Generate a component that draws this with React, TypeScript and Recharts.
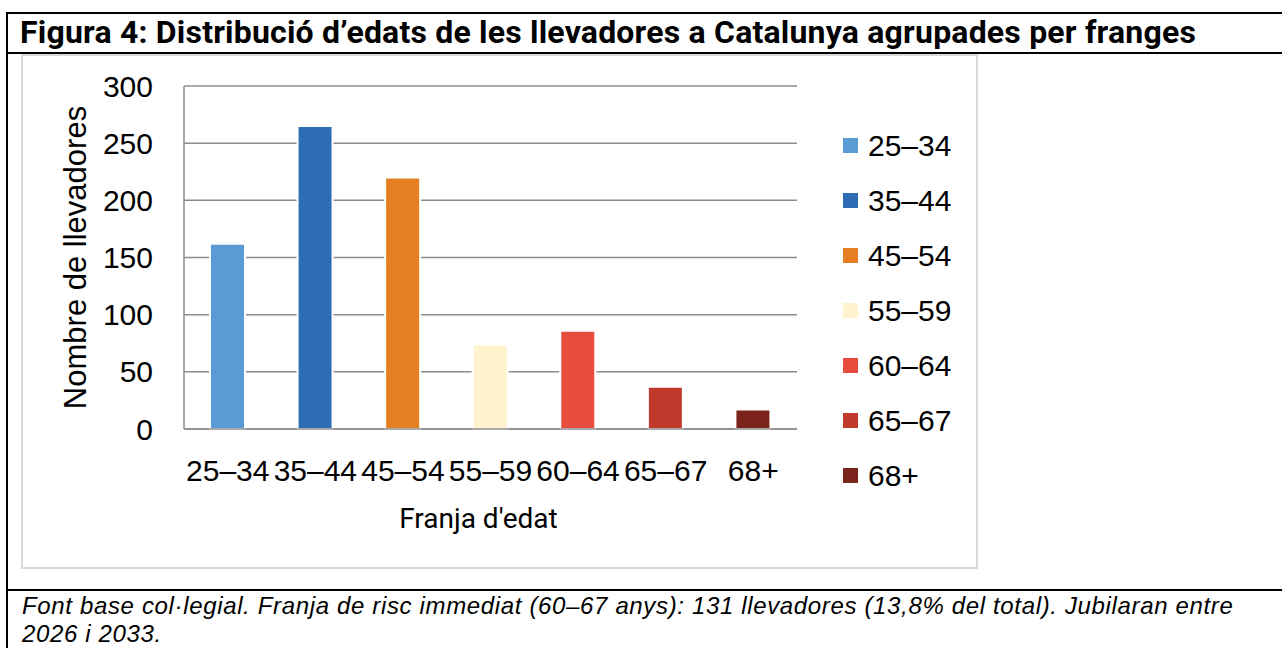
import React from 'react';
import { BarChart, Bar, XAxis, YAxis, CartesianGrid, Cell, Legend } from 'recharts';

const categories = ['25–34', '35–44', '45–54', '55–59', '60–64', '65–67', '68+'];
const counts = [162, 265, 220, 74, 86, 37, 17];
const colors = ['#5B9BD5', '#2E6DB4', '#E67E22', '#FFF2CC', '#E74C3C', '#C0392B', '#7B241C'];
const yTicks = [0, 50, 100, 150, 200, 250, 300];

const titleText = 'Figura 4: Distribució d’edats de les llevadores a Catalunya agrupades per franges';
const yLabel = 'Nombre de llevadores';
const xLabel = "Franja d'edat";
const noteLine1 = 'Font base col·legial. Franja de risc immediat (60–67 anys): 131 llevadores (13,8% del total). Jubilaran entre';
const noteLine2 = '2026 i 2033.';

const data = categories.map((c, i) => ({ franja: c, value: counts[i] }));

const AXIS_FONT = '"Liberation Sans", Arial, sans-serif';
const GRID = '#8c8c8c';

const LegendContent = () => (
  <div style={{ fontFamily: AXIS_FONT, fontSize: 30, color: '#000' }}>
    {categories.map((c, i) => (
      <div key={c} style={{ height: 55, display: 'flex', alignItems: 'center' }}>
        <span style={{ display: 'inline-block', width: 15, height: 15, background: colors[i], marginRight: 10 }} />
        <span style={{ lineHeight: 1 }}>{c}</span>
      </div>
    ))}
  </div>
);

export default function App() {
  return (
    <div style={{ position: 'absolute', left: 0, top: 0, width: 1282, height: 648, background: '#fff', overflow: 'hidden' }}>
      {/* frame lines */}
      <div style={{ position: 'absolute', left: 6, top: 12, width: 2, height: 636, background: '#000' }} />
      <div style={{ position: 'absolute', left: 6, top: 12, width: 1276, height: 2, background: '#000' }} />
      <div style={{ position: 'absolute', left: 6, top: 52, width: 1276, height: 2, background: '#000' }} />
      <div style={{ position: 'absolute', left: 6, top: 589, width: 1276, height: 2, background: '#000' }} />
      {/* title */}
      <div style={{ position: 'absolute', left: 20, top: 16, fontFamily: 'Roboto, sans-serif', fontWeight: 700, fontSize: 32, letterSpacing: 0.2, lineHeight: 1, color: '#000', whiteSpace: 'nowrap' }}>
        {titleText}
      </div>
      {/* inner chart box */}
      <div style={{ position: 'absolute', left: 21, top: 54, width: 957, height: 515, border: '2px solid #d9d9d9', boxSizing: 'border-box' }} />
      <div style={{ position: 'absolute', left: 21, top: 54, width: 957, height: 515 }}>
        <BarChart width={957} height={515} data={data} margin={{ top: 32, right: 181, left: 0, bottom: 30 }}>
          <CartesianGrid vertical={false} stroke={GRID} strokeWidth={1.5} />
          <XAxis
            dataKey="franja"
            tickLine={false}
            tickSize={0}
            tickMargin={31}
            height={110}
            axisLine={{ stroke: GRID, strokeWidth: 1.5 }}
            tick={{ fill: '#000', fontSize: 30, fontFamily: AXIS_FONT }}
            interval={0}
            label={{ value: xLabel, position: 'insideBottom', offset: 11, dx: -12, fill: '#000', fontSize: 28, fontFamily: 'Roboto, sans-serif' }}
          />
          <YAxis
            domain={[0, 300]}
            ticks={yTicks}
            width={163}
            tickLine={false}
            tickSize={0}
            tickMargin={31}
            axisLine={{ stroke: GRID, strokeWidth: 1.5 }}
            tick={{ fill: '#000', fontSize: 30, fontFamily: AXIS_FONT }}
            label={{ value: yLabel, angle: -90, position: 'insideLeft', offset: 54, fill: '#000', fontSize: 31, fontFamily: AXIS_FONT, style: { textAnchor: 'middle' } }}
          />
          <Legend
            layout="vertical"
            align="center"
            verticalAlign="middle"
            wrapperStyle={{ left: 822, top: 64, width: 150 }}
            content={LegendContent}
          />
          <Bar dataKey="value" barSize={35} stroke="#ffffff" strokeWidth={2} isAnimationActive={false}>
            {data.map((d, i) => (
              <Cell key={d.franja} fill={colors[i]} />
            ))}
          </Bar>
        </BarChart>
      </div>
      {/* footnote */}
      <div style={{ position: 'absolute', left: 22, top: 592, fontFamily: '"Liberation Sans", Arial, sans-serif', fontStyle: 'italic', fontSize: 24, letterSpacing: 0.65, lineHeight: '28px', color: '#000', whiteSpace: 'nowrap' }}>
        <div>{noteLine1}</div>
        <div>{noteLine2}</div>
      </div>
    </div>
  );
}
